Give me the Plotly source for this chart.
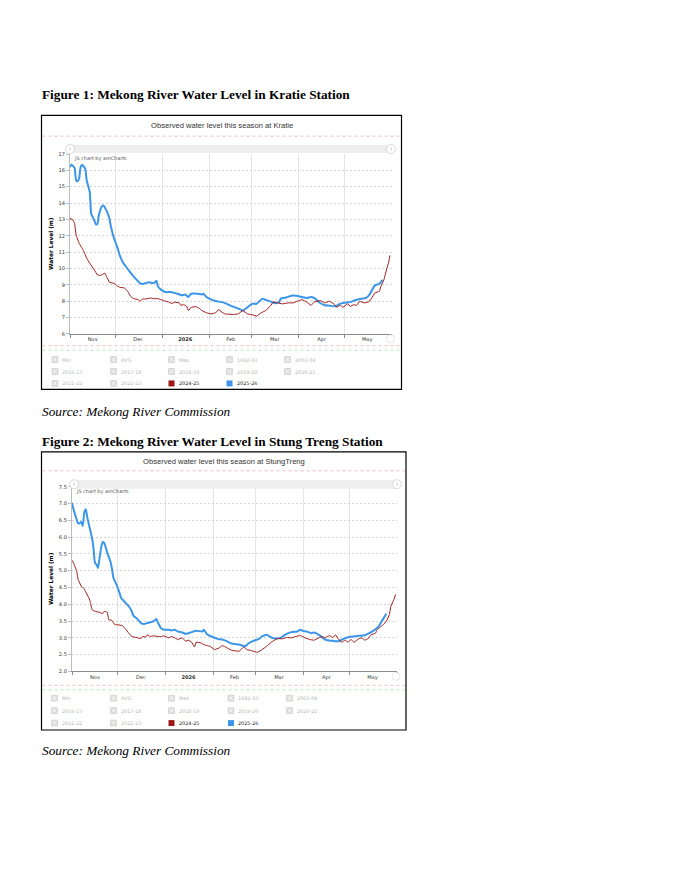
"""
Mekong River water level this season — Kratie and Stung Treng
Rebuilds the two amCharts panels from the MRC report page as one Plotly figure.
"""

import plotly.graph_objects as go

# the html body keeps its default 8px margin, so the figure starts at (8, 8)
PAGE_OFFSET = 8
W, H = 680 - PAGE_OFFSET, 880 - PAGE_OFFSET

# =============================================================================
# DATA — (month-day, water level in m)
# =============================================================================

KRATIE_2024_25 = [
    ("11-01", 13.06), ("11-03", 12.96), ("11-04", 12.75), ("11-05", 12.05), ("11-07", 11.54),
    ("11-09", 11.23), ("11-10", 11.07), ("11-12", 10.62), ("11-14", 10.32), ("11-17", 9.91),
    ("11-19", 9.61), ("11-21", 9.57), ("11-22", 9.61), ("11-24", 9.71), ("11-25", 9.51),
    ("11-27", 9.16), ("11-29", 9.10), ("11-30", 9.10), ("12-02", 8.94), ("12-04", 8.84),
    ("12-07", 8.80), ("12-09", 8.60), ("12-11", 8.29), ("12-13", 8.15), ("12-16", 8.09),
    ("12-17", 7.99), ("12-19", 8.13), ("12-21", 8.13), ("12-24", 8.19), ("12-26", 8.15),
    ("12-29", 8.15), ("12-31", 8.09), ("01-03", 7.99), ("01-05", 7.95), ("01-07", 7.85),
    ("01-09", 7.93), ("01-12", 7.89), ("01-13", 7.74), ("01-15", 7.78), ("01-17", 7.68),
    ("01-18", 7.42), ("01-20", 7.62), ("01-23", 7.66), ("01-25", 7.58), ("01-27", 7.42),
    ("01-30", 7.28), ("02-02", 7.22), ("02-05", 7.28), ("02-07", 7.48), ("02-09", 7.34),
    ("02-11", 7.22), ("02-17", 7.18), ("02-20", 7.22), ("02-23", 7.42), ("02-26", 7.22),
    ("03-02", 7.14), ("03-04", 7.08), ("03-07", 7.28), ("03-10", 7.42), ("03-13", 7.68),
    ("03-15", 7.95), ("03-18", 7.89), ("03-21", 7.83), ("03-25", 7.89), ("03-28", 7.89),
    ("03-31", 7.99), ("04-03", 8.09), ("04-06", 7.95), ("04-09", 7.74), ("04-11", 7.95),
    ("04-15", 8.03), ("04-18", 7.89), ("04-21", 7.99), ("04-24", 7.83), ("04-26", 7.62),
    ("04-28", 7.74), ("04-30", 7.62), ("05-03", 7.83), ("05-05", 7.68), ("05-07", 7.78),
    ("05-09", 7.74), ("05-11", 7.99), ("05-14", 7.89), ("05-17", 7.95), ("05-19", 8.19),
    ("05-21", 8.50), ("05-24", 8.60), ("05-25", 8.90), ("05-27", 9.31), ("05-29", 10.02),
    ("05-30", 10.32), ("05-31", 10.79),
]

KRATIE_2025_26 = [
    ("11-01", 16.20), ("11-02", 16.35), ("11-04", 16.15), ("11-05", 15.40), ("11-06", 15.33),
    ("11-07", 15.50), ("11-08", 16.20), ("11-09", 16.35), ("11-11", 16.10), ("11-12", 15.40),
    ("11-14", 14.70), ("11-15", 13.35), ("11-17", 12.95), ("11-18", 12.70), ("11-19", 12.70),
    ("11-20", 13.25), ("11-22", 13.80), ("11-23", 13.85), ("11-25", 13.55), ("11-27", 13.05),
    ("11-28", 12.55), ("11-30", 11.85), ("12-02", 11.35), ("12-04", 10.75), ("12-06", 10.35),
    ("12-08", 10.10), ("12-10", 9.85), ("12-13", 9.50), ("12-15", 9.30), ("12-17", 9.10),
    ("12-19", 9.05), ("12-21", 9.10), ("12-23", 9.15), ("12-26", 9.10), ("12-27", 9.15),
    ("12-28", 9.25), ("12-29", 8.90), ("12-31", 8.70), ("01-03", 8.55), ("01-06", 8.55),
    ("01-09", 8.50), ("01-11", 8.45), ("01-14", 8.35), ("01-16", 8.40), ("01-18", 8.25),
    ("01-20", 8.45), ("01-24", 8.45), ("01-27", 8.40), ("01-28", 8.45), ("01-30", 8.25),
    ("02-02", 8.10), ("02-05", 8.00), ("02-10", 7.92), ("02-15", 7.72), ("02-19", 7.58),
    ("02-23", 7.42), ("02-26", 7.62), ("03-01", 7.83), ("03-04", 7.83), ("03-06", 8.00),
    ("03-08", 8.15), ("03-10", 8.07), ("03-14", 7.95), ("03-16", 7.87), ("03-19", 7.95),
    ("03-20", 8.15), ("03-24", 8.23), ("03-27", 8.33), ("03-30", 8.33), ("04-03", 8.25),
    ("04-06", 8.19), ("04-09", 8.25), ("04-11", 8.19), ("04-15", 7.88), ("04-18", 7.74),
    ("04-21", 7.72), ("04-25", 7.68), ("04-28", 7.83), ("05-01", 7.90), ("05-05", 7.95),
    ("05-08", 8.05), ("05-11", 8.13), ("05-15", 8.19), ("05-17", 8.33), ("05-19", 8.64),
    ("05-21", 8.96), ("05-24", 9.06), ("05-26", 9.30),
]

STUNGTRENG_2024_25 = [
    ("11-01", 5.31), ("11-02", 5.23), ("11-04", 4.99), ("11-05", 4.74), ("11-07", 4.54),
    ("11-09", 4.46), ("11-10", 4.36), ("11-12", 4.19), ("11-13", 4.06), ("11-14", 3.84),
    ("11-16", 3.79), ("11-19", 3.76), ("11-21", 3.72), ("11-22", 3.79), ("11-24", 3.76),
    ("11-25", 3.54), ("11-27", 3.52), ("11-29", 3.39), ("12-01", 3.39), ("12-04", 3.36),
    ("12-06", 3.26), ("12-08", 3.14), ("12-10", 3.04), ("12-13", 3.01), ("12-16", 2.98),
    ("12-17", 3.04), ("12-19", 3.02), ("12-20", 3.09), ("12-22", 3.04), ("12-24", 3.06),
    ("12-27", 3.04), ("12-29", 3.04), ("12-31", 3.06), ("01-03", 3.00), ("01-05", 3.04),
    ("01-07", 3.00), ("01-09", 2.95), ("01-12", 3.00), ("01-14", 2.90), ("01-16", 2.93),
    ("01-18", 2.87), ("01-20", 2.73), ("01-21", 2.87), ("01-24", 2.85), ("01-26", 2.80),
    ("01-28", 2.77), ("01-30", 2.75), ("02-02", 2.65), ("02-05", 2.70), ("02-07", 2.77),
    ("02-09", 2.73), ("02-13", 2.63), ("02-18", 2.60), ("02-21", 2.73), ("02-23", 2.65),
    ("02-26", 2.62), ("03-02", 2.57), ("03-05", 2.65), ("03-08", 2.75), ("03-11", 2.87),
    ("03-15", 2.98), ("03-18", 2.97), ("03-21", 3.01), ("03-24", 3.00), ("03-27", 3.04),
    ("03-30", 3.07), ("04-02", 3.00), ("04-05", 2.95), ("04-08", 2.93), ("04-11", 3.00),
    ("04-13", 3.04), ("04-15", 3.00), ("04-18", 3.07), ("04-20", 3.01), ("04-22", 3.09),
    ("04-24", 2.95), ("04-26", 2.87), ("04-28", 2.93), ("04-30", 2.87), ("05-02", 2.95),
    ("05-04", 2.87), ("05-07", 2.97), ("05-09", 3.00), ("05-11", 2.93), ("05-13", 2.97),
    ("05-15", 3.09), ("05-18", 3.14), ("05-19", 3.24), ("05-21", 3.32), ("05-23", 3.39),
    ("05-25", 3.49), ("05-27", 3.69), ("05-28", 3.94), ("05-30", 4.14), ("05-31", 4.29),
]

STUNGTRENG_2025_26 = [
    ("11-01", 7.02), ("11-02", 6.83), ("11-04", 6.53), ("11-05", 6.41), ("11-06", 6.41),
    ("11-07", 6.45), ("11-08", 6.33), ("11-09", 6.73), ("11-10", 6.83), ("11-11", 6.58),
    ("11-12", 6.38), ("11-14", 5.98), ("11-15", 5.68), ("11-16", 5.23), ("11-17", 5.18),
    ("11-18", 5.08), ("11-19", 5.38), ("11-20", 5.68), ("11-21", 5.85), ("11-22", 5.83),
    ("11-24", 5.53), ("11-26", 5.28), ("11-27", 5.08), ("11-28", 4.79), ("11-30", 4.59),
    ("12-02", 4.34), ("12-03", 4.19), ("12-05", 4.09), ("12-07", 3.99), ("12-08", 3.94),
    ("12-10", 3.79), ("12-11", 3.66), ("12-13", 3.59), ("12-16", 3.44), ("12-18", 3.41),
    ("12-20", 3.44), ("12-22", 3.46), ("12-24", 3.49), ("12-26", 3.56), ("12-27", 3.46),
    ("12-29", 3.29), ("12-31", 3.24), ("01-03", 3.24), ("01-05", 3.22), ("01-07", 3.24),
    ("01-09", 3.19), ("01-12", 3.16), ("01-14", 3.12), ("01-16", 3.14), ("01-18", 3.17),
    ("01-21", 3.21), ("01-25", 3.19), ("01-26", 3.24), ("01-28", 3.11), ("01-31", 3.04),
    ("02-04", 2.97), ("02-07", 2.95), ("02-10", 2.90), ("02-13", 2.83), ("02-18", 2.80),
    ("02-22", 2.75), ("02-24", 2.83), ("02-27", 2.90), ("03-03", 2.97), ("03-05", 3.04),
    ("03-08", 3.09), ("03-11", 3.01), ("03-14", 2.98), ("03-17", 3.00), ("03-19", 3.06),
    ("03-21", 3.12), ("03-24", 3.17), ("03-28", 3.19), ("03-30", 3.24), ("04-01", 3.20),
    ("04-03", 3.19), ("04-06", 3.14), ("04-08", 3.16), ("04-11", 3.09), ("04-13", 3.02),
    ("04-15", 2.95), ("04-17", 2.93), ("04-20", 2.91), ("04-24", 2.90), ("04-27", 2.97),
    ("04-30", 3.02), ("05-03", 3.04), ("05-07", 3.06), ("05-10", 3.07), ("05-13", 3.12),
    ("05-16", 3.19), ("05-20", 3.34), ("05-22", 3.49), ("05-24", 3.64), ("05-25", 3.72),
]

MONTH_STARTS = ["2025-11-01", "2025-12-01", "2026-01-01", "2026-02-01",
                "2026-03-01", "2026-04-01", "2026-05-01", "2026-06-01"]
MONTH_MIDS = ["2025-11-16", "2025-12-16", "2026-01-16", "2026-02-15",
              "2026-03-16", "2026-04-16", "2026-05-16"]
MONTH_LABELS = ["Nov", "Dec", "<b>2026</b>", "Feb", "Mar", "Apr", "May"]

LEGEND_LABELS = ["Min", "AVG", "Max", "1992-93", "2003-04",
                 "2016-17", "2017-18", "2018-19", "2019-20", "2020-21",
                 "2021-22", "2022-23", "2024-25", "2025-26"]

SEASON_COLORS = {"2024-25": "#9e1717", "2025-26": "#3b96e9"}
SEASON_WIDTH = {"2024-25": 1.0, "2025-26": 2.0}

# =============================================================================
# PAGE LAYOUT (page pixels)
# =============================================================================

CHARTS = [
    dict(station="Kratie",
         heading="Figure 1: Mekong River Water Level in Kratie Station", heading_y=92,
         frame=(41.5, 113, 401.5, 389), plot=(70, 152, 391.5, 333),
         yrange=(6, 17), dtick=1, fmt="d",
         title_y=123.5, rule_y=134, scroll=(70, 143, 391, 151),
         legend_line=345, legend_rows=(359, 371, 383), legend_cols=(52, 110.5, 168.5, 226.5, 284.5),
         source_y=411,
         series={"2024-25": KRATIE_2024_25, "2025-26": KRATIE_2025_26}),
    dict(station="StungTreng",
         heading="Figure 2: Mekong River Water Level in Stung Treng Station", heading_y=441,
         frame=(41.5, 452, 406, 732), plot=(72, 487, 397, 673),
         yrange=(2, 7.5), dtick=0.5, fmt=".1f",
         title_y=461.5, rule_y=471, scroll=(74, 480, 397, 489),
         legend_line=687, legend_rows=(700, 712.5, 725), legend_cols=(51.5, 110.5, 168.5, 228, 286.5),
         source_y=753,
         series={"2024-25": STUNGTRENG_2024_25, "2025-26": STUNGTRENG_2025_26}),
]


def season_date(md):
    # both seasons are drawn on the current season's Nov-May axis
    year = 2025 if int(md[:2]) >= 11 else 2026
    return f"{year}-{md}"


def px(x):
    return (x - PAGE_OFFSET) / W


def py(y):
    return 1 - (y - PAGE_OFFSET) / H


fig = go.Figure()
shapes = []
annotations = []
layout_axes = {}

SMALL = "DejaVu Sans"

for i, c in enumerate(CHARTS, start=1):
    xa = "x" if i == 1 else f"x{i}"
    ya = "y" if i == 1 else f"y{i}"
    l, t, r, b = c["plot"]
    fl, ft, fr, fb = c["frame"]

    # draw blue (this season) first, last season on top
    for season in ["2025-26", "2024-25"]:
        pts = c["series"][season]
        fig.add_trace(go.Scatter(
            x=[season_date(d) for d, _ in pts],
            y=[v for _, v in pts],
            mode="lines",
            line=dict(color=SEASON_COLORS[season], width=SEASON_WIDTH[season],
                      shape="spline", smoothing=0.5 if season == "2025-26" else 0.2),
            xaxis=xa, yaxis=ya,
            name=season, showlegend=False,
            hovertemplate="%{x|%d %b}: %{y:.2f} m<extra>" + season + "</extra>",
        ))

    layout_axes["xaxis" if i == 1 else f"xaxis{i}"] = dict(
        domain=[px(l), px(r)], anchor=ya, type="date",
        range=[MONTH_STARTS[0], MONTH_STARTS[-1]],
        tickmode="array", tickvals=MONTH_MIDS, ticktext=MONTH_LABELS,
        ticks="", showgrid=False, zeroline=False,
        showline=True, linecolor="#8c8c8c", linewidth=1,
        tickfont=dict(family=SMALL, size=5.1, color="#333"),
        minor=dict(tickmode="array", tickvals=MONTH_STARTS, ticks="outside", ticklen=3,
                   tickcolor="#8c8c8c", showgrid=True, gridcolor="#e4e4e4", gridwidth=1,
                   griddash="solid"),
        fixedrange=True,
    )
    layout_axes["yaxis" if i == 1 else f"yaxis{i}"] = dict(
        domain=[py(b), py(t)], anchor=xa,
        range=list(c["yrange"]), tick0=c["yrange"][0], dtick=c["dtick"], tickformat=c["fmt"],
        showgrid=True, gridcolor="#d6d6d6", griddash="2px,2px", gridwidth=0.7,
        ticks="outside", ticklen=3, tickcolor="#bdbdbd",
        showline=True, linecolor="#bdbdbd", linewidth=1, zeroline=False,
        tickfont=dict(family=SMALL, size=5.1, color="#333"),
        fixedrange=True,
    )

    # page heading and source line
    annotations.append(dict(
        x=px(40), y=py(c["heading_y"]), xref="paper", yref="paper",
        xanchor="left", yanchor="middle", showarrow=False,
        text=f"<b>{c['heading']}</b>",
        font=dict(family="Liberation Serif", size=13.3, color="#000"),
    ))
    annotations.append(dict(
        x=px(40), y=py(c["source_y"]), xref="paper", yref="paper",
        xanchor="left", yanchor="middle", showarrow=False,
        text="<i>Source: Mekong River Commission</i>",
        font=dict(family="Liberation Serif", size=13.3, color="#000"),
    ))

    # chart frame, title and separator lines
    shapes.append(dict(type="rect", xref="paper", yref="paper",
                       x0=px(fl), x1=px(fr), y0=py(fb), y1=py(ft),
                       line=dict(color="#000", width=1.2)))
    annotations.append(dict(
        x=px((fl + fr) / 2), y=py(c["title_y"]), xref="paper", yref="paper",
        xanchor="center", yanchor="middle", showarrow=False,
        text=f"Observed water level this season at {c['station']}",
        font=dict(family="Liberation Sans", size=7.6, color="#333"),
    ))
    for yy, col in [(c["rule_y"], "#e7b3b3"), (c["legend_line"], "#e7b3b3"),
                    (c["legend_line"] + 4.5, "#a8e0a8")]:
        shapes.append(dict(type="line", xref="paper", yref="paper",
                           x0=px(fl + 1), x1=px(fr - 1), y0=py(yy), y1=py(yy),
                           line=dict(color=col, width=0.8, dash="dot")))

    # scrollbar with grips
    sl, st, sr, sb = c["scroll"]
    shapes.append(dict(type="rect", xref="paper", yref="paper",
                       x0=px(sl), x1=px(sr), y0=py(sb), y1=py(st),
                       fillcolor="#eeeeee", line=dict(width=0), layer="above"))
    for gx in (sl, sr):
        gy = (st + sb) / 2
        shapes.append(dict(type="circle", xref="paper", yref="paper",
                           x0=px(gx - 4.5), x1=px(gx + 4.5), y0=py(gy + 4.5), y1=py(gy - 4.5),
                           fillcolor="#fff", line=dict(color="#d0d0d0", width=0.8), layer="above"))
        shapes.append(dict(type="line", xref="paper", yref="paper",
                           x0=px(gx), x1=px(gx), y0=py(gy + 1.8), y1=py(gy - 1.8),
                           line=dict(color="#aaa", width=0.6), layer="above"))

    # zoom-out button at bottom right
    shapes.append(dict(type="circle", xref="paper", yref="paper",
                       x0=px(r - 5), x1=px(r + 3), y0=py(b + 9), y1=py(b + 1),
                       fillcolor="#fff", line=dict(color="#dcdcdc", width=0.7)))

    annotations.append(dict(
        x=px(l + 2), y=py(t + 5), xref="paper", yref="paper",
        xanchor="left", yanchor="middle", showarrow=False,
        text="JS chart by amCharts",
        font=dict(family=SMALL, size=4.9, color="#555"),
    ))
    annotations.append(dict(
        x=px(51), y=py((t + b) / 2), xref="paper", yref="paper",
        xanchor="center", yanchor="middle", showarrow=False, textangle=-90,
        text="<b>Water Level (m)</b>",
        font=dict(family=SMALL, size=5.8, color="#000"),
    ))

    # legend grid: greyed-out seasons plus the two shown
    for k, label in enumerate(LEGEND_LABELS):
        cx = c["legend_cols"][k % 5]
        cy = c["legend_rows"][k // 5]
        if label in SEASON_COLORS:
            shapes.append(dict(type="rect", xref="paper", yref="paper",
                               x0=px(cx), x1=px(cx + 6), y0=py(cy + 3), y1=py(cy - 3),
                               fillcolor=SEASON_COLORS[label], line=dict(width=0)))
            txt_color = "#222"
        else:
            shapes.append(dict(type="rect", xref="paper", yref="paper",
                               x0=px(cx), x1=px(cx + 6), y0=py(cy + 3), y1=py(cy - 3),
                               fillcolor="#dcdcdc", line=dict(color="#c4c4c4", width=0.5)))
            for y0, y1 in [(cy - 2, cy + 2), (cy + 2, cy - 2)]:
                shapes.append(dict(type="line", xref="paper", yref="paper",
                                   x0=px(cx + 1), x1=px(cx + 5), y0=py(y0), y1=py(y1),
                                   line=dict(color="#fff", width=0.8)))
            txt_color = "#b8b8b8"
        annotations.append(dict(
            x=px(cx + 8), y=py(cy), xref="paper", yref="paper",
            xanchor="left", yanchor="middle", showarrow=False,
            text=label, font=dict(family=SMALL, size=4.9, color=txt_color),
        ))

fig.update_layout(
    width=W, height=H,
    margin=dict(l=0, r=0, t=0, b=0),
    paper_bgcolor="#ffffff",
    plot_bgcolor="#ffffff",
    showlegend=False,
    shapes=shapes,
    annotations=annotations,
    **layout_axes,
)

fig.write_html("out.html")
